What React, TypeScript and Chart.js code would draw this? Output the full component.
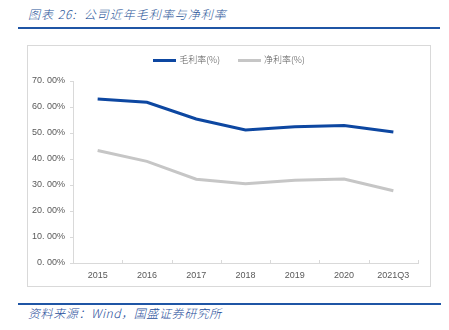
import React, { useEffect, useRef } from "react";
import { Chart, registerables } from "chart.js";

Chart.register(...registerables);

const categories = ["2015", "2016", "2017", "2018", "2019", "2020", "2021Q3"];
const grossMargin = [63.1, 61.8, 55.4, 51.2, 52.4, 52.9, 50.4];
const netMargin = [43.3, 39.1, 32.2, 30.5, 31.8, 32.3, 27.8];
const seriesNames = ["毛利率(%)", "净利率(%)"];
const seriesColors = ["#0D47A1", "#C6C6C6"];
const yMin = 0;
const yMax = 70;
const yStep = 10;
const titleText = "图表 26:  公司近年毛利率与净利率";
const sourceText = "资料来源：Wind，国盛证券研究所";

const CJK = '"Noto Sans CJK SC", "Liberation Sans", sans-serif';
const LATIN = '"Liberation Sans", "Noto Sans CJK SC", sans-serif';

const innerTicks = {
  id: "innerTicks",
  afterDraw(chart: any) {
    const x = chart.scales.x;
    const { ctx, chartArea } = chart;
    const n = categories.length;
    const w = (x.right - x.left) / n;
    ctx.save();
    ctx.strokeStyle = "#D9D9D9";
    ctx.lineWidth = 1;
    ctx.beginPath();
    for (let i = 1; i <= n; i++) {
      const px = Math.round(x.left + i * w) + 0.5;
      ctx.moveTo(px, chartArea.bottom);
      ctx.lineTo(px, chartArea.bottom - 3);
    }
    ctx.stroke();
    ctx.restore();
  },
};

export default function App() {
  const ref = useRef<HTMLCanvasElement | null>(null);

  useEffect(() => {
    document.body.style.margin = "0";
    const canvas = ref.current;
    if (!canvas) return;
    const chart = new Chart(canvas, {
      type: "line",
      data: {
        labels: categories,
        datasets: [
          {
            label: seriesNames[0],
            data: grossMargin,
            borderColor: seriesColors[0],
            backgroundColor: seriesColors[0],
            borderWidth: 3,
            pointRadius: 0,
            tension: 0,
          },
          {
            label: seriesNames[1],
            data: netMargin,
            borderColor: seriesColors[1],
            backgroundColor: seriesColors[1],
            borderWidth: 3,
            pointRadius: 0,
            tension: 0,
          },
        ],
      },
      options: {
        animation: false,
        responsive: false,
        maintainAspectRatio: false,
        layout: { padding: { top: 35, right: 12, left: 0, bottom: 0 } },
        plugins: {
          legend: { display: false },
          tooltip: { enabled: false },
        },
        scales: {
          x: {
            offset: true,
            grid: { display: false, drawTicks: false },
            border: { display: true, color: "#D9D9D9", width: 1 },
            ticks: {
              padding: 7,
              color: "#595959",
              font: { family: LATIN, size: 9 },
              maxRotation: 0,
              autoSkip: false,
            },
            afterFit(scale: any) {
              scale.height = 23;
            },
          },
          y: {
            min: yMin,
            max: yMax,
            grid: {
              drawOnChartArea: false,
              drawTicks: true,
              tickLength: 3,
              color: "#D9D9D9",
            },
            border: { display: true, color: "#D9D9D9", width: 1 },
            ticks: {
              stepSize: yStep,
              padding: 5,
              color: "#595959",
              font: { family: LATIN, size: 9 },
              callback: (v: any) => Number(v).toFixed(2).replace(".", ". ") + "%",
            },
            afterFit(scale: any) {
              scale.width = 45;
            },
          },
        },
      },
      plugins: [innerTicks],
    });
    return () => chart.destroy();
  }, []);

  return (
    <div style={{ position: "relative", width: 449, height: 330, background: "#fff", overflow: "hidden" }}>
      <div
        style={{
          position: "absolute",
          left: 28,
          top: 6,
          fontFamily: CJK,
          fontStyle: "italic",
          fontWeight: 300,
          fontSize: 12,
          letterSpacing: 1,
          color: "#2A5599",
          whiteSpace: "pre",
          lineHeight: "16px",
        }}
      >
        {titleText}
      </div>
      <div style={{ position: "absolute", left: 18, top: 27, width: 422, height: 2, background: "#1F55A5" }} />
      <div
        style={{
          position: "absolute",
          left: 27,
          top: 45,
          width: 402,
          height: 240,
          border: "1px solid #D9D9D9",
        }}
      >
        <canvas ref={ref} width={402} height={240} style={{ position: "absolute", left: 0, top: 0, width: 402, height: 240 }} />
        <div
          style={{
            position: "absolute",
            left: 0,
            top: 8,
            width: 402,
            display: "flex",
            justifyContent: "center",
            fontFamily: CJK,
            fontWeight: 300,
            fontSize: 9,
            color: "#595959",
            lineHeight: "12px",
          }}
        >
          {seriesNames.map((name, i) => (
            <div key={name} style={{ display: "flex", alignItems: "center", marginLeft: i === 0 ? 0 : 18 }}>
              <span style={{ display: "inline-block", width: 23, height: 3, background: seriesColors[i], marginRight: 3 }} />
              <span>{name}</span>
            </div>
          ))}
        </div>
      </div>
      <div style={{ position: "absolute", left: 18, top: 303, width: 423, height: 2, background: "#1F55A5" }} />
      <div
        style={{
          position: "absolute",
          left: 28,
          top: 305,
          fontFamily: CJK,
          fontStyle: "italic",
          fontWeight: 300,
          fontSize: 12,
          letterSpacing: 0.6,
          color: "#1F4E9A",
          whiteSpace: "pre",
          lineHeight: "16px",
        }}
      >
        {sourceText}
      </div>
    </div>
  );
}
